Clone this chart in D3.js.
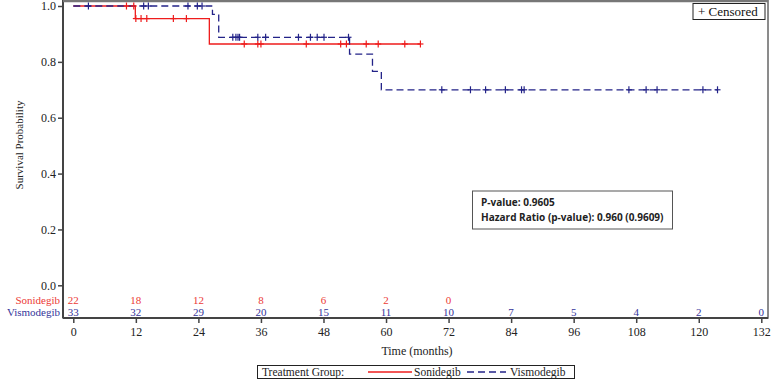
<!DOCTYPE html>
<html><head><meta charset="utf-8">
<script src="https://cdn.jsdelivr.net/npm/d3@7"></script>
<style>body{margin:0;background:#fff}svg{display:block}</style>
</head><body><div id="chart"></div>
<script>
const timeTicks = [0,12,24,36,48,60,72,84,96,108,120,132];
const yTicks = [0,0.2,0.4,0.6,0.8,1.0];
// step changes: [time, survival]
const sonidegibSteps = [[0,1.0],[11.9,0.955],[26.1,0.864]];
const sonidegibEnd = 66.6;
const vismodegibSteps = [[0,1.0],[26.7,0.97],[27.9,0.888],[53.0,0.828],[57.4,0.766],[59.1,0.70]];
const vismodegibEnd = 123.6;
const sonidegibCensor = [10.2,11.6,12.0,13.0,14.1,19.2,21.7,32.8,35.4,36.0,44.7,51.3,52.4,56.2,58.5,63.6,66.6];
const vismodegibCensor = [2.9,13.5,14.4,22.0,23.8,24.7,30.6,31.2,31.6,31.9,35.4,36.9,43.2,45.5,46.8,48.1,52.8,70.7,76.2,79.1,82.9,86.0,86.5,106.6,109.9,112.0,120.8,123.6];
const atRiskTimes = [0,12,24,36,48,60,72,84,96,108,120,132];
const sonidegibAtRisk = [22,18,12,8,6,2,0];
const vismodegibAtRisk = [33,32,29,20,15,11,10,7,5,4,2,0];

const W=773,H=380;
const red="#ee1c1c", blue="#232388", redTxt="#ec3a36", blueTxt="#34349a";
const serif="'Liberation Serif','DejaVu Serif',serif";
const svg=d3.select("#chart").append("svg").attr("width",W).attr("height",H);
const x=d3.scaleLinear().domain([0,132]).range([73.3,761.3]);
const y=d3.scaleLinear().domain([0,1]).range([285.3,6]);
const frame={l:63,r:768,t:0.5,b:318};

// frame
svg.append("rect").attr("x",frame.l).attr("y",frame.t).attr("width",frame.r-frame.l).attr("height",frame.b-frame.t)
  .attr("fill","none").attr("stroke","#666").attr("stroke-width",1.5);
svg.append("line").attr("x1",frame.l).attr("x2",frame.l).attr("y1",0).attr("y2",frame.b).attr("stroke","#444").attr("stroke-width",2);
svg.append("line").attr("x1",frame.l).attr("x2",frame.r).attr("y1",frame.b).attr("y2",frame.b).attr("stroke","#444").attr("stroke-width",2);
svg.append("line").attr("x1",frame.l).attr("x2",frame.r).attr("y1",1).attr("y2",1).attr("stroke","#777").attr("stroke-width",2.5);

// y axis
const yAxis=svg.append("g").attr("transform",`translate(${frame.l},0)`)
  .call(d3.axisLeft(y).tickValues(yTicks).tickFormat(d3.format(".1f")).tickSize(5).tickSizeOuter(0));
yAxis.select(".domain").remove();
yAxis.selectAll("line").attr("stroke","#444").attr("stroke-width",1.5);
yAxis.selectAll("text").attr("font-family",serif).attr("font-size",12).attr("fill","#222").attr("x",-7);

// x axis
const xAxis=svg.append("g").attr("transform",`translate(0,${frame.b})`)
  .call(d3.axisBottom(x).tickValues(timeTicks).tickSize(5).tickSizeOuter(0));
xAxis.select(".domain").remove();
xAxis.selectAll("line").attr("stroke","#444").attr("stroke-width",1.5);
xAxis.selectAll("text").attr("font-family",serif).attr("font-size",12).attr("fill","#222").attr("y",9);

svg.append("text").attr("x",417).attr("y",355).attr("text-anchor","middle").attr("font-family",serif).attr("font-size",12).attr("fill","#222").text("Time (months)");
svg.append("text").attr("transform","translate(23,145) rotate(-90)").attr("text-anchor","middle").attr("font-family",serif).attr("font-size",11).attr("fill","#222").text("Survival Probability");

// step paths
function stepPath(steps,end){
  const pts=steps.map(d=>[d[0],d[1]]);pts.push([end,steps[steps.length-1][1]]);
  return d3.line().x(d=>x(d[0])).y(d=>y(d[1])).curve(d3.curveStepAfter)(pts);
}
function survAt(steps,t){let v=steps[0][1];for(const s of steps){if(t>=s[0])v=s[1];}return v;}
svg.append("path").attr("d",stepPath(sonidegibSteps,sonidegibEnd)).attr("fill","none").attr("stroke",red).attr("stroke-width",1.3);
svg.append("path").attr("d",stepPath(vismodegibSteps,vismodegibEnd)).attr("fill","none").attr("stroke",blue).attr("stroke-width",1.3).attr("stroke-dasharray","7,4");

function censor(times,steps,col){
  const g=svg.append("g").attr("stroke",col).attr("stroke-width",1.2);
  times.forEach(t=>{const cx=x(t),cy=y(survAt(steps,t));
    g.append("line").attr("x1",cx-3).attr("x2",cx+3).attr("y1",cy).attr("y2",cy);
    g.append("line").attr("x1",cx).attr("x2",cx).attr("y1",cy-3.5).attr("y2",cy+3.5);});
}
censor(sonidegibCensor,sonidegibSteps,red);
censor(vismodegibCensor,vismodegibSteps,blue);

// at risk
function atRisk(vals,yy,col,label){
  svg.append("text").attr("x",60).attr("y",yy).attr("text-anchor","end").attr("font-family",serif).attr("font-size",11).attr("fill",col).text(label);
  vals.forEach((v,i)=>svg.append("text").attr("x",x(atRiskTimes[i])).attr("y",yy).attr("text-anchor","middle").attr("font-family",serif).attr("font-size",11).attr("fill",col).text(v));
}
atRisk(sonidegibAtRisk,304,redTxt,"Sonidegib");
atRisk(vismodegibAtRisk,316,blueTxt,"Vismodegib");

// censored legend
svg.append("rect").attr("x",693).attr("y",3.5).attr("width",72).attr("height",16).attr("fill","#fff").attr("stroke","#222").attr("stroke-width",1);
svg.append("text").attr("x",698).attr("y",16).attr("font-family",serif).attr("font-size",13).attr("fill","#111").text("+  Censored");

// stats box
svg.append("rect").attr("x",472.5).attr("y",191).attr("width",200).attr("height",38).attr("fill","#fff").attr("stroke","#555").attr("stroke-width",1);
svg.append("text").attr("x",481).attr("y",206).attr("font-family","'Open Sans',sans-serif").attr("font-weight","bold").attr("font-size",10).attr("fill","#222").text("P-value: 0.9605");
svg.append("text").attr("x",481).attr("y",221).attr("font-family","'Open Sans',sans-serif").attr("font-weight","bold").attr("font-size",10).attr("fill","#222").text("Hazard Ratio (p-value): 0.960 (0.9609)");

// bottom legend
svg.append("rect").attr("x",257.5).attr("y",365.5).attr("width",317).attr("height",13).attr("fill","#fff").attr("stroke","#222").attr("stroke-width",1);
svg.append("text").attr("x",262).attr("y",376).attr("font-family",serif).attr("font-size",11.5).attr("fill","#222").text("Treatment Group:");
svg.append("line").attr("x1",368).attr("x2",412).attr("y1",372).attr("y2",372).attr("stroke",red).attr("stroke-width",1.3);
svg.append("text").attr("x",414).attr("y",376).attr("font-family",serif).attr("font-size",11.5).attr("fill","#222").text("Sonidegib");
svg.append("line").attr("x1",467).attr("x2",506).attr("y1",372).attr("y2",372).attr("stroke",blue).attr("stroke-width",1.3).attr("stroke-dasharray","7,4");
svg.append("text").attr("x",510).attr("y",376).attr("font-family",serif).attr("font-size",11.5).attr("fill","#222").text("Vismodegib");
</script></body></html>
